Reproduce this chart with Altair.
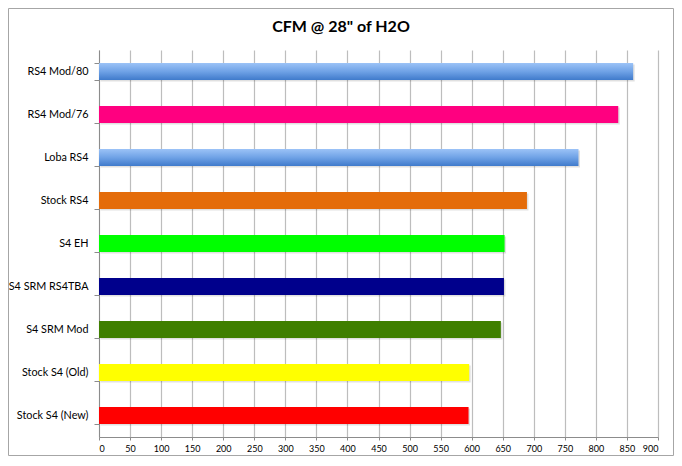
import altair as alt
import pandas as pd

categories = ["RS4 Mod/80", "RS4 Mod/76", "Loba RS4", "Stock RS4", "S4 EH",
              "S4 SRM RS4TBA", "S4 SRM Mod", "Stock S4 (Old)", "Stock S4 (New)"]
cfm = [860, 836, 772, 689, 653, 652, 647, 596, 595]
bar_colors = ["gradient", "#ff0080", "gradient", "#e46c0a", "#00ff00",
              "#00008c", "#3f7f00", "#ffff00", "#ff0000"]
x_ticks = list(range(0, 901, 50))
title_text = "CFM @ 28\" of H2O"

df = pd.DataFrame({"name": categories, "cfm": cfm, "col": bar_colors})
solid_names = [n for n, c in zip(categories, bar_colors) if c != "gradient"]
solid_cols = [c for c in bar_colors if c != "gradient"]

FONT = "Lato"

y_enc = alt.Y("name:N", sort=categories, title=None,
              scale=alt.Scale(paddingInner=0.6, paddingOuter=0.3),
              axis=alt.Axis(labelFont=FONT, labelFontSize=10.8, labelColor="#000",
                            labelPadding=6, tickSize=5, tickBand="extent",
                            tickColor="#8c8c8c", domainColor="#8c8c8c",
                            grid=False))
x_enc = alt.X("cfm:Q", title=None,
              scale=alt.Scale(domain=[0, 900], nice=False),
              axis=alt.Axis(values=x_ticks, labelFont=FONT, labelFontSize=9,
                            labelColor="#000", tickSize=3, tickColor="#8c8c8c",
                            domainColor="#8c8c8c", grid=True,
                            gridColor="#bdbdbd", gridWidth=1.2,
                            labelPadding=4))

base = alt.Chart(df).encode(y=y_enc, x=x_enc)

shadow = base.mark_bar(color="#000", opacity=0.12, xOffset=1.5, yOffset=1.5)

solid = base.transform_filter(alt.datum.col != "gradient").mark_bar().encode(
    color=alt.Color("name:N", scale=alt.Scale(domain=solid_names, range=solid_cols),
                    legend=None))

grad = base.transform_filter(alt.datum.col == "gradient").mark_bar(
    color=alt.Gradient(gradient="linear", x1=0, x2=0, y1=0, y2=1,
                       stops=[alt.GradientStop(offset=0, color="#9cc3f7"),
                              alt.GradientStop(offset=0.5, color="#6fa2e6"),
                              alt.GradientStop(offset=1, color="#3f7acb")]))

one = alt.Data(values=[{"a": 1}])

border = alt.Chart(one).mark_rect(
    fill=None, stroke="#a6a6a6", strokeWidth=1, clip=False
).encode(x=alt.value(-90.5), x2=alt.value(574.5),
         y=alt.value(-41.5), y2=alt.value(405.5))

title = alt.Chart(one).mark_text(
    text=title_text, font=FONT, fontSize=16, fontWeight="bold", color="#000",
    align="center", baseline="alphabetic", clip=False
).encode(x=alt.value(242), y=alt.value(-18))

chart = alt.layer(border, shadow, solid, grad, title).properties(
    width=559, height=387,
    autosize=alt.AutoSizeParams(type="none"),
    padding={"left": 91, "top": 42, "right": 16, "bottom": 19},
).configure_view(stroke=None)

chart.save("out.html", embed_options={"renderer": "svg", "actions": False})
